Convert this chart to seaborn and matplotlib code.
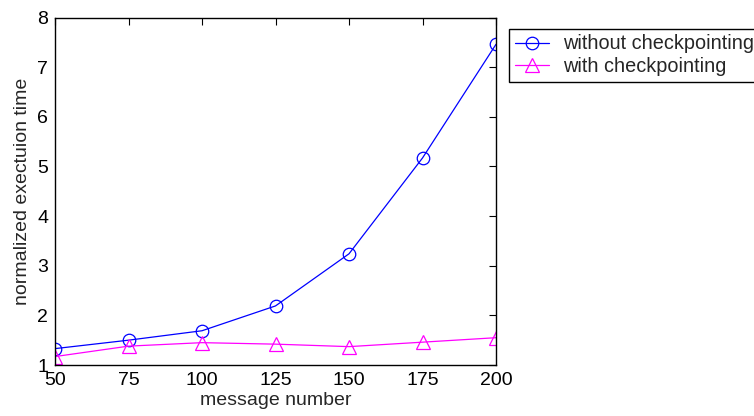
import matplotlib
matplotlib.use("Agg")
import matplotlib.pyplot as plt
import seaborn as sns
import pandas as pd

# Message counts on the x axis
message_number = [50, 75, 100, 125, 150, 175, 200]
# Normalized execution time for each configuration
without_ckpt = [1.33, 1.50, 1.69, 2.19, 3.24, 5.17, 7.46]
with_ckpt = [1.17, 1.38, 1.45, 1.42, 1.37, 1.46, 1.55]

series_names = ["without checkpointing", "with checkpointing"]

df = pd.DataFrame({
    "message number": message_number * 2,
    "time": without_ckpt + with_ckpt,
    "series": [series_names[0]] * len(message_number) + [series_names[1]] * len(message_number),
})

sns.set_theme(style="white")
plt.rcParams["font.family"] = ["Liberation Sans", "DejaVu Sans"]

fig = plt.figure(figsize=(7.54, 4.16), dpi=100)
ax = fig.add_axes([55 / 754, 1 - 365 / 416, (496 - 55) / 754, (365 - 17.5) / 416])

styles = {
    series_names[0]: dict(color=(0, 0, 1), marker="o", markersize=9),
    series_names[1]: dict(color=(1, 0, 1), marker="^", markersize=9.5),
}
for name in series_names:
    st = styles[name]
    sns.lineplot(
        data=df[df["series"] == name], x="message number", y="time",
        ax=ax, color=st["color"], marker=st["marker"], markersize=st["markersize"],
        markerfacecolor="none", markeredgecolor=st["color"], markeredgewidth=0.9,
        linewidth=0.9, label=name, legend=False,
    )

ax.set_xlim(50, 200)
ax.set_ylim(1, 8)
ax.set_xticks(message_number)
ax.set_yticks(range(1, 9))
ax.set_xlabel("message number", fontsize=14, labelpad=2)
ax.set_ylabel("normalized exectuion time", fontsize=14, labelpad=4)
ax.tick_params(axis="both", which="both", direction="in", length=5, width=0.8,
               top=True, right=True, labelsize=14, colors="black", pad=5)
for s in ax.spines.values():
    s.set_visible(True)
    s.set_color("black")
    s.set_linewidth(1.0)

leg = ax.legend(
    loc="upper left", bbox_to_anchor=(509 / 754, 1 - 28.5 / 416),
    bbox_transform=fig.transFigure, fontsize=14.3, frameon=True, fancybox=False,
    framealpha=1, edgecolor="black", handlelength=1.7, handletextpad=0.72,
    borderpad=0.3, labelspacing=0.18, borderaxespad=0,
)
leg.get_frame().set_linewidth(1.0)

fig.savefig("out.png", dpi=100)
